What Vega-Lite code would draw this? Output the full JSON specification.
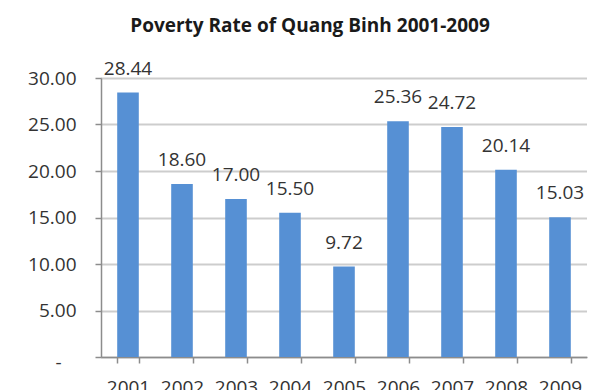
{
  "$schema": "https://vega.github.io/schema/vega-lite/v6.json",
  "autosize": "none",
  "width": 486,
  "height": 279,
  "padding": {"left": 101, "top": 78, "right": 10, "bottom": 33},
  "background": "white",
  "title": {
    "text": "Poverty Rate of Quang Binh 2001-2009",
    "font": "Open Sans",
    "fontSize": 19,
    "fontWeight": "bold",
    "color": "#1a1a1a",
    "anchor": "middle",
    "baseline": "alphabetic",
    "dx": -34,
    "offset": 9
  },
  "config": {
    "view": {"stroke": null},
    "font": "Open Sans"
  },
  "data": {
    "values": [
      {"year": "2001", "rate": 28.44},
      {"year": "2002", "rate": 18.60},
      {"year": "2003", "rate": 17.00},
      {"year": "2004", "rate": 15.50},
      {"year": "2005", "rate": 9.72},
      {"year": "2006", "rate": 25.36},
      {"year": "2007", "rate": 24.72},
      {"year": "2008", "rate": 20.14},
      {"year": "2009", "rate": 15.03}
    ]
  },
  "encoding": {
    "x": {
      "field": "year",
      "type": "ordinal",
      "title": null,
      "scale": {"paddingInner": 0.6, "paddingOuter": 0.3},
      "axis": {
        "labelAngle": 0,
        "labelFont": "Open Sans",
        "labelFontSize": 19,
        "labelColor": "#333333",
        "labelPadding": 15,
        "labelBaseline": "top",
        "domainColor": "#8c8c8c",
        "domainWidth": 1.5,
        "tickColor": "#8c8c8c",
        "tickSize": 6,
        "tickWidth": 1.5,
        "tickBand": "extent",
        "grid": false
      }
    },
    "y": {
      "field": "rate",
      "type": "quantitative",
      "title": null,
      "scale": {"domain": [0, 30], "nice": false},
      "axis": {
        "values": [0, 5, 10, 15, 20, 25, 30],
        "labelExpr": "datum.value == 0 ? '-' : format(datum.value, '.2f')",
        "labelFont": "Open Sans",
        "labelFontSize": 19,
        "labelColor": "#333333",
        "labelPadding": {"condition": {"test": "datum.value == 0", "value": 34}, "value": 19},
        "labelOffset": {"condition": {"test": "datum.value == 0", "value": 5}, "value": 0},
        "domainColor": "#8c8c8c",
        "domainWidth": 1.5,
        "tickColor": "#8c8c8c",
        "tickSize": 6,
        "tickWidth": 1.5,
        "grid": true,
        "gridColor": "#9a9a9a",
        "gridWidth": 2,
        "gridDash": [1, 1]
      }
    }
  },
  "layer": [
    {"mark": {"type": "bar", "color": "#5690d4"}},
    {
      "mark": {
        "type": "text",
        "baseline": "alphabetic",
        "dy": -18,
        "font": "Open Sans",
        "fontSize": 19,
        "color": "#333333"
      },
      "encoding": {"text": {"field": "rate", "type": "quantitative", "format": ".2f"}}
    }
  ]
}
